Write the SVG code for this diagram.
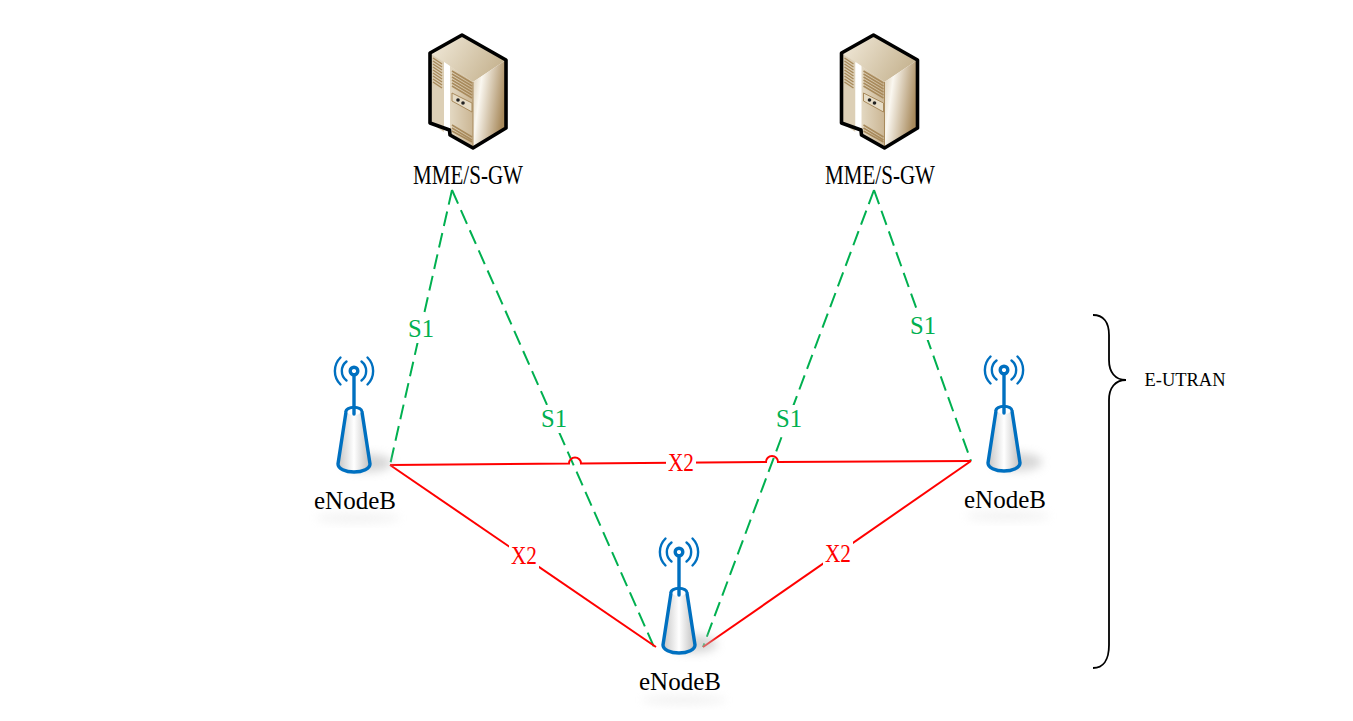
<svg xmlns="http://www.w3.org/2000/svg" width="1353" height="721" viewBox="0 0 1353 721">
<style>
text{font-family:"Liberation Serif","Noto Serif",serif;text-anchor:middle}
.lbl{font-size:25px;fill:#000}
.mme{font-size:27px;fill:#000}
.s1t{font-size:25px;fill:#00b050}
.x2t{font-size:25px;fill:#ff0000}
.s1{fill:none;stroke:#00b050;stroke-width:2;stroke-dasharray:15 7}
.x2{fill:none;stroke:#ff0000;stroke-width:2}
.bg{fill:#fff}
.blue{fill:none;stroke:#0070c0;stroke-linecap:round}
.lou{fill:none;stroke:#a88a5c;stroke-width:1.500}
</style>
<defs>
<filter id="blur" x="-50%" y="-50%" width="200%" height="200%"><feGaussianBlur stdDeviation="5"/></filter>
<linearGradient id="cone" x1="0" x2="1" y1="0" y2="0"><stop offset="0" stop-color="#c4c4c4"/><stop offset="0.5" stop-color="#ffffff"/><stop offset="1" stop-color="#bdbdbd"/></linearGradient>
<linearGradient id="side" x1="0" x2="1" y1="0" y2="0.35"><stop offset="0" stop-color="#d9cbb0"/><stop offset="0.3" stop-color="#faf7f0"/><stop offset="1" stop-color="#a88a5c"/></linearGradient>
<linearGradient id="top" x1="0" x2="1" y1="0" y2="0.4"><stop offset="0" stop-color="#f3ecdd"/><stop offset="1" stop-color="#c8b694"/></linearGradient>
<linearGradient id="front" x1="0" x2="1" y1="0" y2="0"><stop offset="0" stop-color="#e3d8c2"/><stop offset="1" stop-color="#cbb694"/></linearGradient>
<symbol id="enb" overflow="visible">
<ellipse cx="14" cy="92" rx="24" ry="9" fill="#bbb" opacity="0.6" filter="url(#blur)"/>
<path d="M-8 41 L-16 93 A16 8 0 0 0 16 93 L8 41 A8 4.5 0 0 0 -8 41Z" fill="url(#cone)" stroke="#0070c0" stroke-width="3.4"/>
<ellipse cx="0" cy="41" rx="6.5" ry="3.2" fill="#fff"/>
<path class="blue" d="M0 5V43" stroke-width="3.4"/>
<circle cx="0" cy="0" r="3.8" fill="#fff" stroke="#0070c0" stroke-width="3.4"/>
<path class="blue" stroke-width="2.4" d="M-7.5 -9.5A12 12 0 0 0 -7.5 9.5M7.5 -9.5A12 12 0 0 1 7.5 9.5M-13.5 -13.5A19 19 0 0 0 -13.5 13.5M13.5 -13.5A19 19 0 0 1 13.5 13.5"/>
</symbol>
<symbol id="srv" overflow="visible">
<path d="M0 0 L44 25 L11 47 L-32 18Z" fill="url(#top)"/>
<path d="M11 47 L44 25 V93 L11 113Z" fill="url(#side)"/>
<path d="M-32 18 L-18 27 V97 L-32 88Z" fill="#dccfb6"/>
<path d="M-18 27 L-12 31 V100 L-18 97Z" fill="#fff"/>
<path d="M-12 31 L11 47 V113 L-12 100Z" fill="url(#front)"/>
<path d="M11 47 V113" stroke="#a88a5c" stroke-width="1" fill="none"/>
<path class="lou" d="M-29 23L-20 29M-29 26L-20 32M-29 29L-20 35M-29 32L-20 38M-29 35L-20 41M-29 38L-20 44M-29 41L-20 47M-29 44L-20 50M-29 47L-20 53"/>
<path class="lou" d="M-10 36L10 48M-10 39L10 51M-10 42L10 54M-10 45L10 57M-10 48L10 60M-10 51L10 63"/>
<path class="lou" d="M-10 90L10 102M-10 93L10 105M-10 96L10 107"/>
<path d="M-10 58 L10 68 V77 L-10 66Z" fill="#e6dcc6" stroke="#a88a5c"/>
<circle cx="-4" cy="65" r="1.800" fill="#222"/><circle cx="1" cy="68" r="1.800" fill="#222"/>
<path d="M0 0 L44 25 V93 L11 113 L-12 100 L-12.500 95 L-32 88 V18Z" fill="none" stroke="#000" stroke-width="3.600" stroke-linejoin="round"/>
</symbol>
</defs>

<g id="connectors">
<path class="s1" d="M452 190L390 465"/>
<path class="s1" d="M452 190L654 647"/>
<path class="s1" d="M874 190L703 647"/>
<path class="s1" d="M874 190L971 461"/>
<path class="x2" d="M390 465L569 463.500A6 6 0 0 1 581 463.500L766 462A6 6 0 0 1 778 462L971 461"/>
<path class="x2" d="M390 465L656 647"/>
<path class="x2" d="M971 461L703 647"/>
<path id="brace" fill="none" stroke="#000" stroke-width="1.800" d="M1093 315C1103 315 1109 322 1109 335V360C1109 372 1115 380 1126 380C1115 380 1109 388 1109 400V645C1109 660 1103 668 1093 668"/>
</g>

<g id="edge-labels">
<rect class="bg" x="406" y="315" width="30" height="28"/><text class="s1t" x="421" y="337" textLength="26" lengthAdjust="spacingAndGlyphs">S1</text>
<rect class="bg" x="539" y="405" width="30" height="28"/><text class="s1t" x="554" y="427" textLength="26" lengthAdjust="spacingAndGlyphs">S1</text>
<rect class="bg" x="774" y="405" width="30" height="28"/><text class="s1t" x="789" y="427" textLength="26" lengthAdjust="spacingAndGlyphs">S1</text>
<rect class="bg" x="908" y="312" width="30" height="28"/><text class="s1t" x="923" y="334" textLength="26" lengthAdjust="spacingAndGlyphs">S1</text>
<rect class="bg" x="666" y="450" width="30" height="26"/><text class="x2t" x="681" y="471" textLength="26" lengthAdjust="spacingAndGlyphs">X2</text>
<rect class="bg" x="509" y="542" width="30" height="28"/><text class="x2t" x="524" y="564" textLength="26" lengthAdjust="spacingAndGlyphs">X2</text>
<rect class="bg" x="823" y="540" width="30" height="28"/><text class="x2t" x="838" y="562" textLength="26" lengthAdjust="spacingAndGlyphs">X2</text>
</g>

<g id="mme1"><use href="#srv" x="462" y="35"/><text class="mme" x="468" y="184" textLength="110" lengthAdjust="spacingAndGlyphs">MME/S-GW</text></g>
<g id="mme2"><use href="#srv" x="873.500" y="35"/><text class="mme" x="880" y="184" textLength="110" lengthAdjust="spacingAndGlyphs">MME/S-GW</text></g>

<g id="enb1"><use href="#enb" x="354" y="371"/><ellipse cx="358" cy="518" rx="42" ry="5" fill="#ccc" opacity="0.25" filter="url(#blur)"/><text class="lbl" x="355" y="509" textLength="82" lengthAdjust="spacingAndGlyphs">eNodeB</text></g>
<g id="enb2"><use href="#enb" x="1004" y="370"/><ellipse cx="1008" cy="516" rx="42" ry="5" fill="#ccc" opacity="0.25" filter="url(#blur)"/><text class="lbl" x="1005" y="508" textLength="82" lengthAdjust="spacingAndGlyphs">eNodeB</text></g>
<g id="enb3"><use href="#enb" x="679" y="552"/><ellipse cx="684" cy="700" rx="42" ry="5" fill="#ccc" opacity="0.25" filter="url(#blur)"/><text class="lbl" x="680" y="690" textLength="82" lengthAdjust="spacingAndGlyphs">eNodeB</text></g>

<g id="e-utran"><text x="1185" y="386" font-size="18" fill="#000" textLength="81" lengthAdjust="spacingAndGlyphs">E-UTRAN</text></g>
</svg>
